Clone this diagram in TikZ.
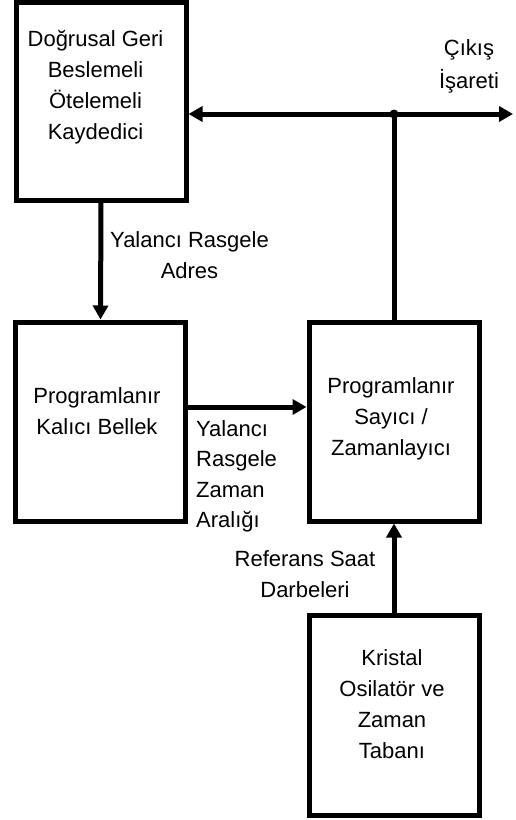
\documentclass[tikz,border=0pt]{standalone}
\usepackage{fontspec}
\setmainfont{Liberation Sans}
\usetikzlibrary{arrows.meta}
\tikzset{
  blk/.style={draw, line width=5pt, minimum width=170pt, minimum height=199pt, inner sep=0pt},
  txt/.style={font=\fontsize{22}{31}\selectfont, align=center, inner sep=0pt},
  conn/.style={line width=5pt},
  arr/.style={conn, -{Triangle[length=14pt,width=15pt]}}
}
\begin{document}
\begin{tikzpicture}[x=1pt,y=-1pt]
\useasboundingbox (0,0) rectangle (515,820);
% boxes
\node[blk, minimum width=170pt, minimum height=198pt] (lfsr) at (101,101) {};
\node[blk] (rom) at (100.5,421.5) {};
\node[blk] (cnt) at (394,421.5) {};
\node[blk, minimum height=200pt] (osc) at (394,715) {};
% box texts
\node[txt] (tlfsr) at (95.5,87) {\strut Doğrusal Geri\\Beslemeli\\Ötelemeli\\Kaydedici\strut};
\node[txt] (trom) at (97,413) {\strut Programlanır\\Kalıcı Bellek\strut};
\node[txt] (tcnt) at (391,418) {\strut Programlanır\\Sayıcı /\\Zamanlayıcı\strut};
\node[txt] (tosc) at (392,706) {\strut Kristal\\Osilatör ve\\Zaman\\Tabanı\strut};
% labels
\node[txt] (ladr) at (189.5,257) {\strut Yalancı Rasgele\\Adres\strut};
\node[txt, align=left, anchor=west, font=\fontsize{22}{30.5}\selectfont] (lzam) at (196,476) {\strut Yalancı\\Rasgele\\Zaman\\Aralığı\strut};
\node[txt] (lref) at (305,576) {\strut Referans Saat\\Darbeleri\strut};
\node[txt, font=\fontsize{22}{33}\selectfont] (lout) at (469,65) {\strut Çıkış\\İşareti\strut};
% connectors
\coordinate (j) at (394,114);
\coordinate (out) at (513,114);
\draw[arr] (lfsr.south) -- (rom.north);
\draw[arr] ([yshift=14.5pt]rom.east) -- ([yshift=14.5pt]cnt.west);
\draw[arr] (osc.north) -- (cnt.south);
\draw[conn] (cnt.north) -- (j);
\draw[arr] (j) -- (lfsr.east |- j);
\draw[arr] (j) -- (out);
\fill (j) circle (4.5pt);
\end{tikzpicture}
\end{document}
